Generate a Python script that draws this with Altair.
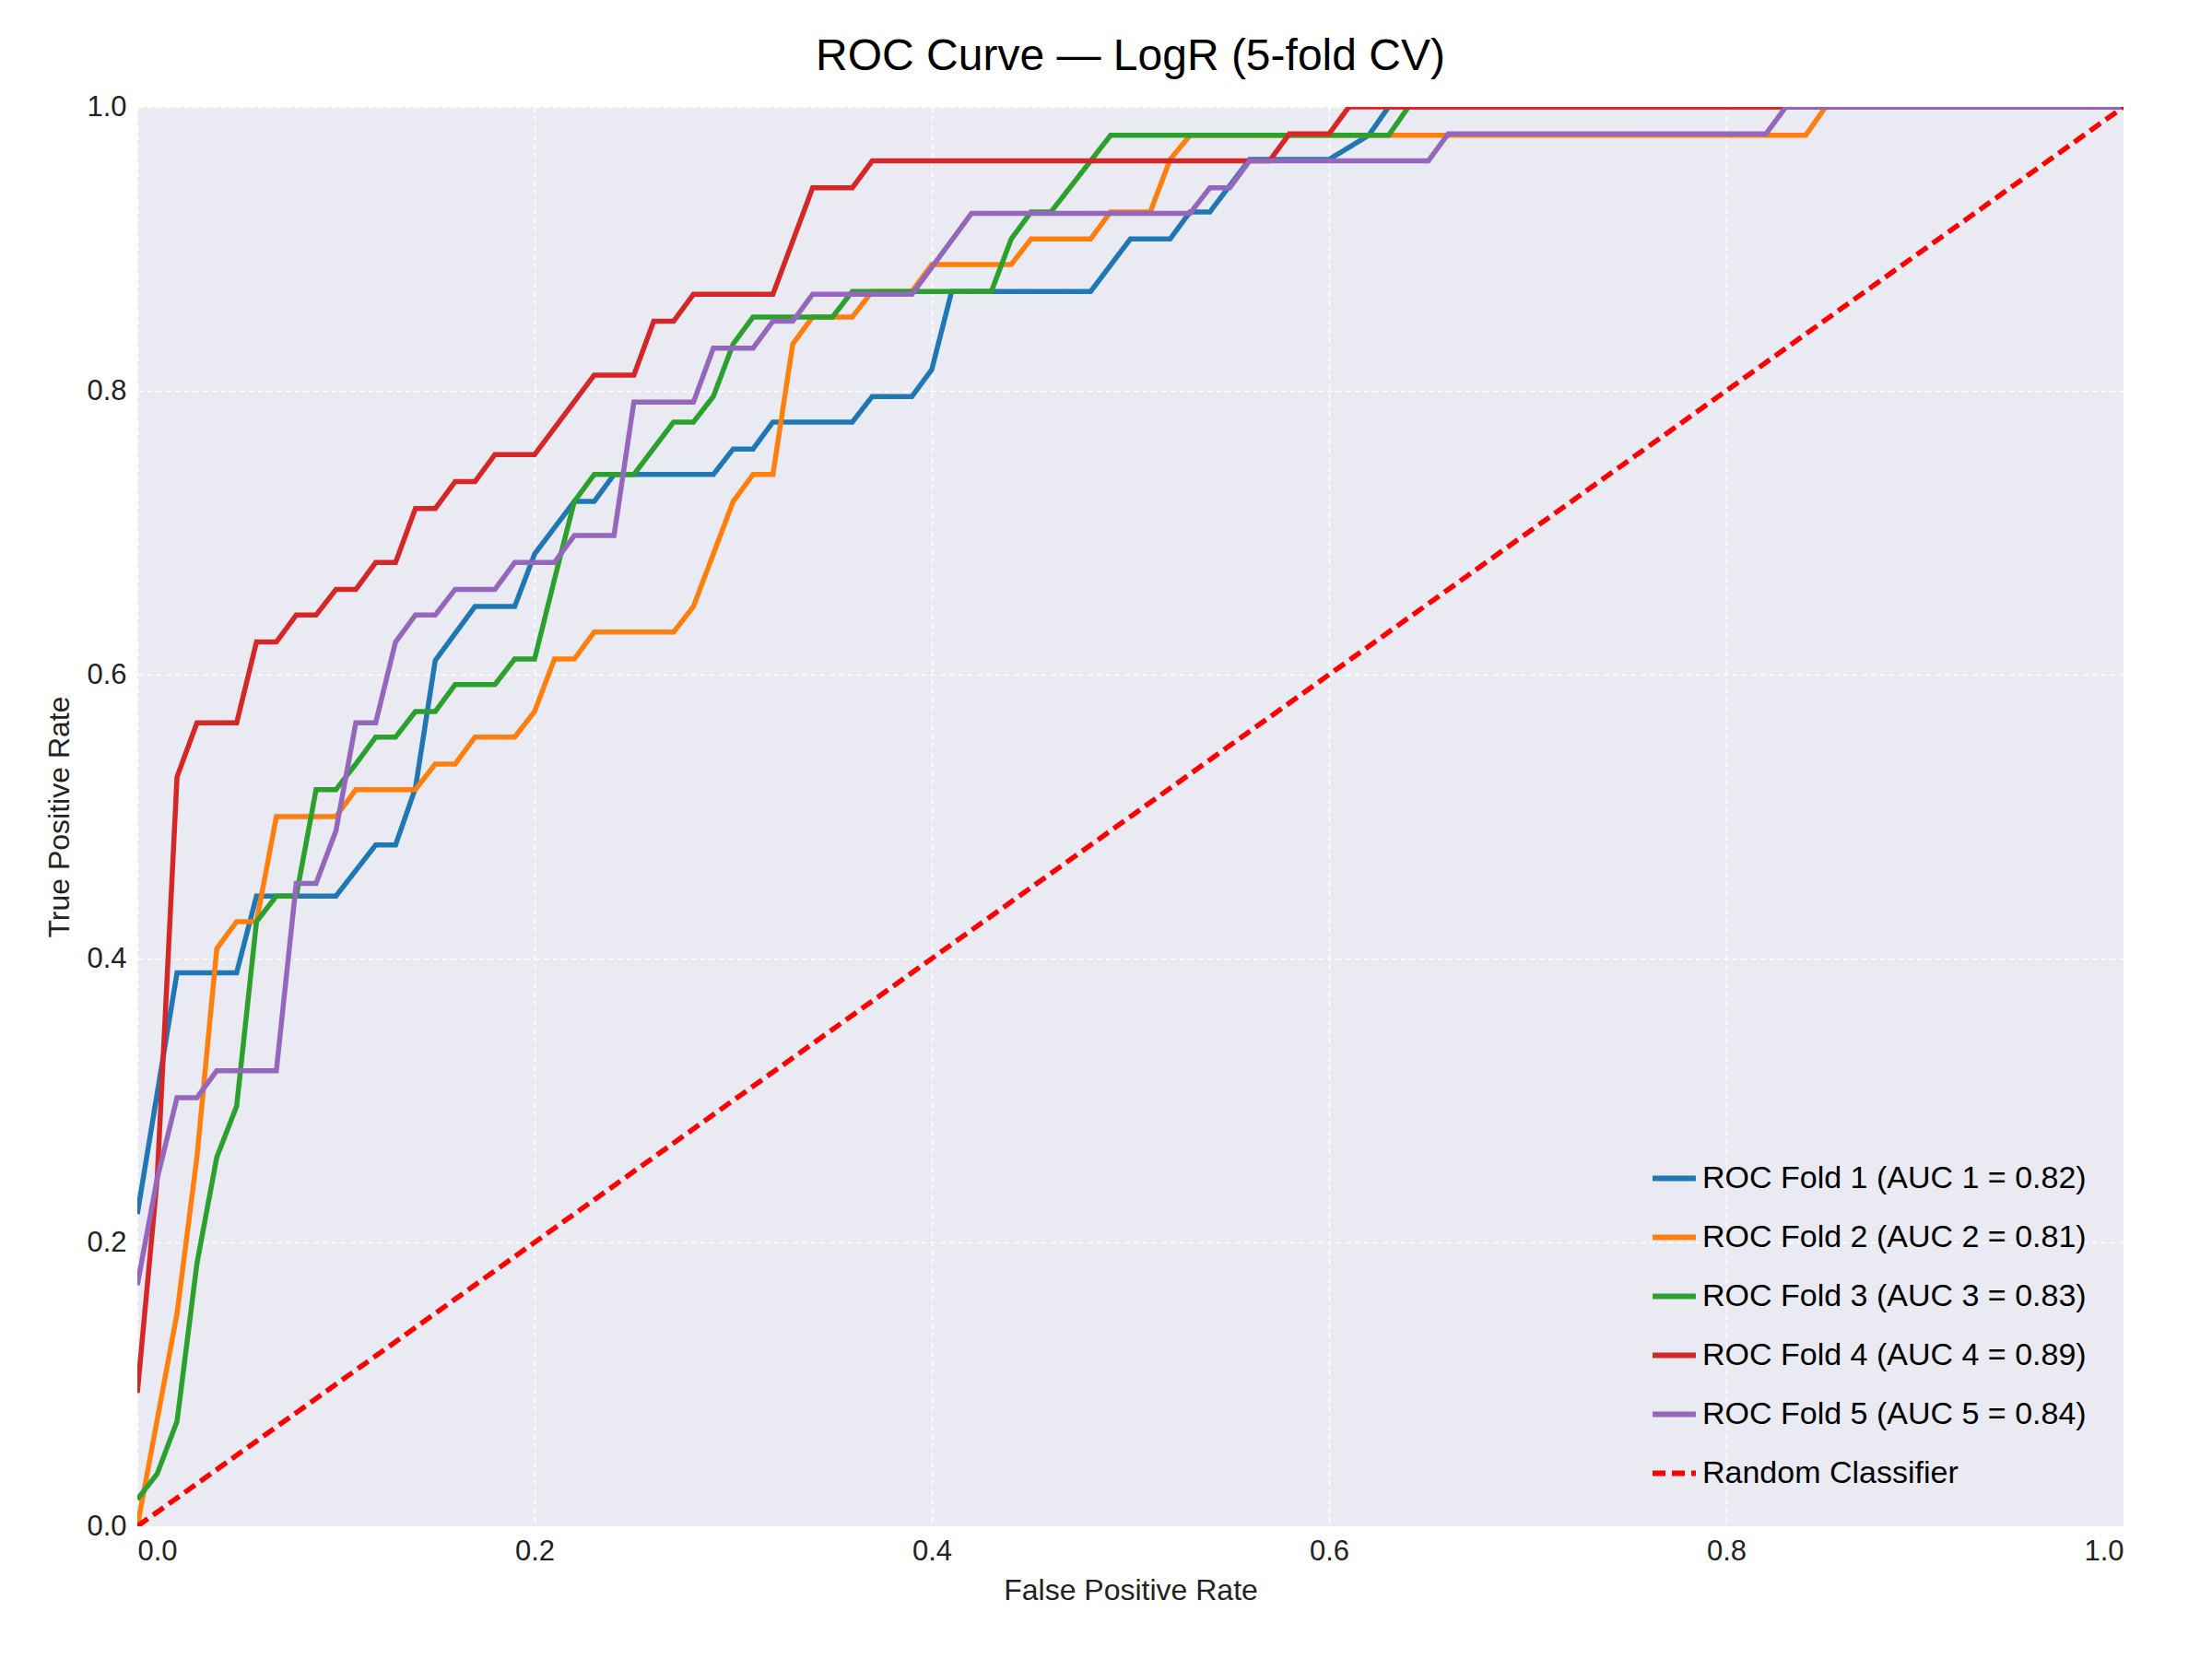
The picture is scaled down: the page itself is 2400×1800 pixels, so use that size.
import pandas as pd
import altair as alt

fold1_fpr = [0, 0.02, 0.05, 0.06, 0.1, 0.12, 0.13, 0.14, 0.15, 0.17, 0.19, 0.2, 0.22, 0.23, 0.24, 0.29, 0.3, 0.31, 0.32, 0.36, 0.37, 0.39, 0.40, 0.41, 0.48, 0.5, 0.52, 0.53, 0.54, 0.56, 0.6, 0.62, 0.63, 1]
fold1_tpr = [0.22, 0.39, 0.39, 0.444, 0.444, 0.48, 0.48, 0.52, 0.61, 0.648, 0.648, 0.685, 0.722, 0.722, 0.741, 0.741, 0.759, 0.759, 0.778, 0.778, 0.796, 0.796, 0.815, 0.87, 0.87, 0.907, 0.907, 0.926, 0.926, 0.963, 0.963, 0.98, 1.0, 1.0]

fold2_fpr = [0, 0.02, 0.03, 0.04, 0.05, 0.06, 0.07, 0.1, 0.11, 0.14, 0.15, 0.16, 0.17, 0.19, 0.2, 0.21, 0.22, 0.23, 0.27, 0.28, 0.3, 0.31, 0.32, 0.33, 0.34, 0.36, 0.37, 0.39, 0.4, 0.44, 0.45, 0.48, 0.49, 0.51, 0.52, 0.53, 0.84, 0.85, 1]
fold2_tpr = [0.0, 0.15, 0.26, 0.407, 0.426, 0.426, 0.5, 0.5, 0.519, 0.519, 0.537, 0.537, 0.556, 0.556, 0.574, 0.611, 0.611, 0.63, 0.63, 0.648, 0.722, 0.741, 0.741, 0.833, 0.852, 0.852, 0.87, 0.87, 0.889, 0.889, 0.907, 0.907, 0.926, 0.926, 0.963, 0.98, 0.98, 1.0, 1.0]

fold3_fpr = [0, 0.01, 0.02, 0.03, 0.04, 0.05, 0.06, 0.07, 0.08, 0.09, 0.1, 0.11, 0.12, 0.13, 0.14, 0.15, 0.16, 0.18, 0.19, 0.2, 0.21, 0.22, 0.23, 0.25, 0.27, 0.28, 0.29, 0.3, 0.31, 0.35, 0.36, 0.43, 0.44, 0.45, 0.46, 0.49, 0.63, 0.64, 1]
fold3_tpr = [0.019, 0.037, 0.074, 0.185, 0.26, 0.296, 0.426, 0.444, 0.444, 0.519, 0.519, 0.537, 0.556, 0.556, 0.574, 0.574, 0.593, 0.593, 0.611, 0.611, 0.667, 0.722, 0.741, 0.741, 0.778, 0.778, 0.796, 0.833, 0.852, 0.852, 0.87, 0.87, 0.907, 0.926, 0.926, 0.98, 0.98, 1.0, 1.0]

fold4_fpr = [0, 0.01, 0.02, 0.03, 0.05, 0.06, 0.07, 0.08, 0.09, 0.1, 0.11, 0.12, 0.13, 0.14, 0.15, 0.16, 0.17, 0.18, 0.2, 0.23, 0.25, 0.26, 0.27, 0.28, 0.32, 0.34, 0.36, 0.37, 0.57, 0.58, 0.6, 0.61, 1]
fold4_tpr = [0.094, 0.245, 0.528, 0.566, 0.566, 0.623, 0.623, 0.642, 0.642, 0.66, 0.66, 0.679, 0.679, 0.717, 0.717, 0.736, 0.736, 0.755, 0.755, 0.811, 0.811, 0.849, 0.849, 0.868, 0.868, 0.943, 0.943, 0.962, 0.962, 0.981, 0.981, 1.0, 1.0]

fold5_fpr = [0, 0.01, 0.02, 0.03, 0.04, 0.07, 0.08, 0.09, 0.1, 0.11, 0.12, 0.13, 0.14, 0.15, 0.16, 0.18, 0.19, 0.21, 0.22, 0.24, 0.25, 0.28, 0.29, 0.31, 0.32, 0.33, 0.34, 0.39, 0.42, 0.53, 0.54, 0.55, 0.56, 0.65, 0.66, 0.82, 0.83, 1]
fold5_tpr = [0.17, 0.245, 0.302, 0.302, 0.321, 0.321, 0.453, 0.453, 0.49, 0.566, 0.566, 0.623, 0.642, 0.642, 0.66, 0.66, 0.679, 0.679, 0.698, 0.698, 0.792, 0.792, 0.83, 0.83, 0.849, 0.849, 0.868, 0.868, 0.925, 0.925, 0.943, 0.943, 0.962, 0.962, 0.981, 0.981, 1.0, 1.0]

aucs = [0.82, 0.81, 0.83, 0.89, 0.84]
colors = ["#1f77b4", "#ff7f0e", "#2ca02c", "#d62728", "#9467bd", "#ff0000"]

folds = [(fold1_fpr, fold1_tpr), (fold2_fpr, fold2_tpr), (fold3_fpr, fold3_tpr),
         (fold4_fpr, fold4_tpr), (fold5_fpr, fold5_tpr)]

rows = []
names = []
for i, (fx, fy) in enumerate(folds):
    name = f"ROC Fold {i+1} (AUC {i+1} = {aucs[i]:.2f})"
    names.append(name)
    for j, (a, b) in enumerate(zip(fx, fy)):
        rows.append({"series": name, "fpr": a, "tpr": b, "order": j})
names.append("Random Classifier")
rows.append({"series": "Random Classifier", "fpr": 0, "tpr": 0, "order": 0})
rows.append({"series": "Random Classifier", "fpr": 1, "tpr": 1, "order": 1})
df = pd.DataFrame(rows)

chart = alt.Chart(df).mark_line(strokeWidth=5.5, clip=True).encode(
    x=alt.X("fpr:Q", title="False Positive Rate", scale=alt.Scale(domain=[0, 1], nice=False),
            axis=alt.Axis(values=[0, 0.2, 0.4, 0.6, 0.8, 1.0], format=".1f")),
    y=alt.Y("tpr:Q", title="True Positive Rate", scale=alt.Scale(domain=[0, 1], nice=False),
            axis=alt.Axis(values=[0, 0.2, 0.4, 0.6, 0.8, 1.0], format=".1f")),
    color=alt.Color("series:N", scale=alt.Scale(domain=names, range=colors), title=None,
                    sort=names),
    strokeDash=alt.StrokeDash("series:N", scale=alt.Scale(domain=names,
                              range=[[1, 0]] * 5 + [[14, 7]]), title=None, sort=names),
    order="order:Q",
).properties(
    width=2155, height=1540,
    padding={"left": 40, "top": 30, "right": 20, "bottom": 10},
    title=alt.TitleParams("ROC Curve — LogR (5-fold CV)", fontSize=48, fontWeight="normal",
                          offset=14),
).configure(
    font="Liberation Sans",
).configure_view(
    fill="#EAEAF2", stroke=None,
).configure_axis(
    grid=True, gridColor="white", gridDash=[6, 4], gridWidth=1.5,
    domain=False, ticks=False, labelFontSize=31, titleFontSize=32,
    titleFontWeight="normal", labelPadding=12, labelColor="#222", titleColor="#222",
    titlePadding=12,
).configure_legend(
    orient="bottom-right", labelFontSize=34, symbolType="stroke", symbolSize=2200,
    symbolStrokeWidth=6, labelLimit=900, rowPadding=20, padding=20, offset=20,
)

chart.save("out.html", embed_options={"renderer": "svg", "actions": False})
